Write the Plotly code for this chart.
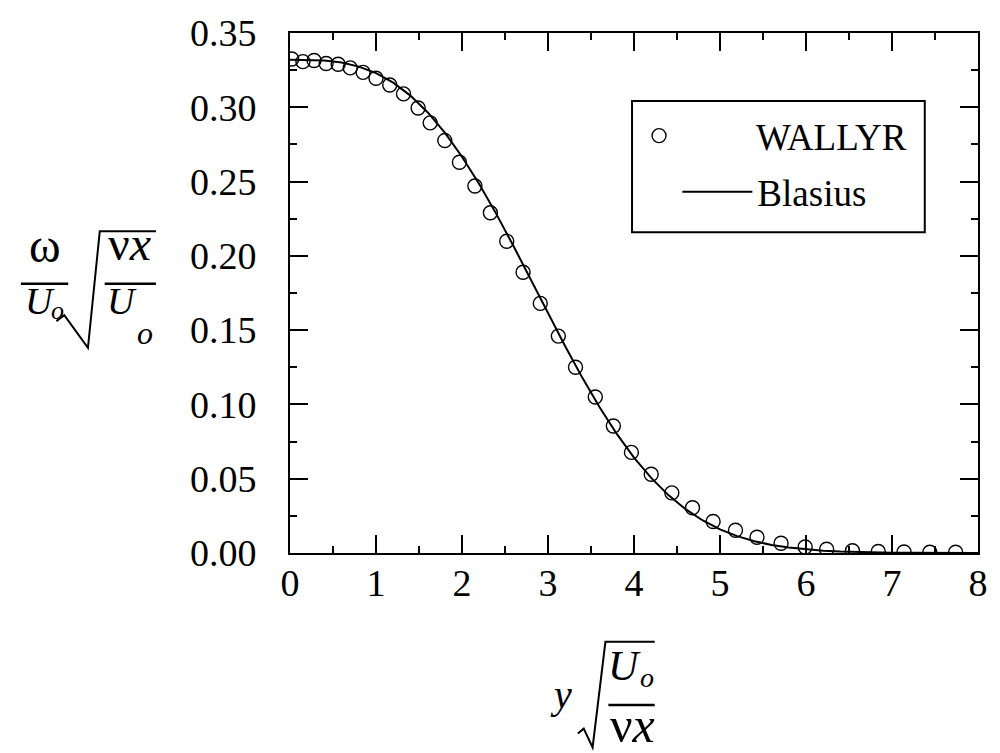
import plotly.graph_objects as go

# ---------------- data ----------------
wallyr_eta = [0.02, 0.15, 0.28, 0.42, 0.56, 0.70, 0.85, 1.00, 1.16, 1.32,
              1.49, 1.63, 1.80, 1.97, 2.15, 2.33, 2.52, 2.71, 2.91, 3.12, 3.32,
              3.55, 3.76, 3.97, 4.20, 4.44, 4.68, 4.92, 5.18, 5.43, 5.71,
              5.99, 6.24, 6.54, 6.84, 7.14, 7.44, 7.74]
wallyr_w = [0.3325, 0.3307, 0.3315, 0.3295, 0.3290, 0.3265, 0.3235, 0.3195, 0.3150, 0.3090,
            0.2995, 0.2895, 0.2776, 0.2630, 0.2470, 0.2290, 0.2098, 0.1890, 0.1680, 0.1460, 0.1250,
            0.1050, 0.0855, 0.0677, 0.0530, 0.0405, 0.0305, 0.0212, 0.0153, 0.0106, 0.0066,
            0.0040, 0.0025, 0.0015, 0.0010, 0.0007, 0.0005, 0.0005]

blasius_eta = [0.0, 0.2, 0.4, 0.6, 0.8, 1.0, 1.2, 1.4, 1.6, 1.8, 2.0, 2.2, 2.4, 2.6, 2.8,
               3.0, 3.2, 3.4, 3.6, 3.8, 4.0, 4.2, 4.4, 4.6, 4.8, 5.0, 5.2, 5.4, 5.6, 5.8,
               6.0, 6.2, 6.4, 6.6, 6.8, 7.0, 7.2, 7.4, 7.6, 7.8, 8.0]
blasius_w = [0.33206, 0.33199, 0.33147, 0.33008, 0.32739, 0.32301, 0.31659, 0.30787, 0.29667,
             0.28293, 0.26675, 0.24835, 0.22809, 0.20646, 0.18401, 0.16136, 0.13913, 0.11788,
             0.09809, 0.08013, 0.06424, 0.05052, 0.03897, 0.02948, 0.02187, 0.01591, 0.01134,
             0.00793, 0.00543, 0.00365, 0.00240, 0.00155, 0.00098, 0.00061, 0.00037, 0.00022,
             0.00013, 0.00007, 0.00004, 0.00002, 0.00001]

x_ticks = [0, 1, 2, 3, 4, 5, 6, 7, 8]
y_ticks = [0.00, 0.05, 0.10, 0.15, 0.20, 0.25, 0.30, 0.35]

# ---------------- layout geometry (pixels) ----------------
W, H = 1000, 753
L, R, T, B = 290, 988, 26, 553
SERIF = "Liberation Serif"
DESC = 0.216   # Liberation Serif descent (em)


def px(xp):
    return (xp - L) / (R - L)


def py(yp):
    return (B - yp) / (B - T)


fig = go.Figure()
fig.add_trace(go.Scatter(
    x=wallyr_eta, y=wallyr_w, mode="markers", name="WALLYR",
    marker=dict(symbol="circle-open", size=14, color="black", line=dict(width=1.4, color="black")),
    legend="legend",
))
fig.add_trace(go.Scatter(
    x=blasius_eta, y=blasius_w, mode="lines", name="Blasius",
    line=dict(color="black", width=2),
    legend="legend2",
))

axis_common = dict(
    showgrid=False, zeroline=False, showline=True, linecolor="black", linewidth=2,
    mirror="ticks", ticks="inside", ticklen=18, tickwidth=1.5, tickcolor="black",
    tickfont=dict(family=SERIF, size=38, color="black"),
)

fig.update_xaxes(range=[0, 8], tickvals=x_ticks, ticktext=[str(v) for v in x_ticks],
                 minor=dict(ticks="inside", ticklen=7, tickwidth=1.5, dtick=0.5, tickcolor="black"),
                 ticklabelstandoff=-5, **axis_common)
fig.update_yaxes(range=[0, 0.35], tickvals=y_ticks, ticktext=["%.2f" % v for v in y_ticks],
                 minor=dict(ticks="inside", ticklen=7, tickwidth=1.5, dtick=0.025, tickcolor="black"),
                 ticklabelstandoff=24, **axis_common)

shapes = []
annotations = []


def seg(x0, y0, x1, y1, w=2.5):
    shapes.append(dict(type="line", xref="paper", yref="paper",
                       x0=px(x0), y0=py(y0), x1=px(x1), y1=py(y1),
                       line=dict(color="black", width=w)))


def poly(pts, w=2):
    d = "M " + " L ".join("%f,%f" % (px(a), py(b)) for a, b in pts)
    shapes.append(dict(type="path", xref="paper", yref="paper", path=d,
                       line=dict(color="black", width=w)))


def txt(s, x, baseline, size=38, anchor="center"):
    """place text so that its baseline sits at the given pixel row"""
    annotations.append(dict(text=s, x=px(x), y=py(baseline + DESC * size + 1),
                            xref="paper", yref="paper",
                            showarrow=False, xanchor=anchor, yanchor="bottom",
                            font=dict(family=SERIF, size=size, color="black")))


# legend box
shapes.append(dict(type="rect", xref="paper", yref="paper",
                   x0=px(637), y0=py(95), x1=px(934), y1=py(228),
                   line=dict(color="black", width=2), fillcolor="white", layer="above"))

# y-axis title:  omega / U_o * sqrt(nu x / U_o)
txt("ω", 41, 259, 48)
seg(17, 280, 65, 280)
txt("<i>U</i>", 19, 312, 38, "left")
txt("<i>o</i>", 45, 317, 26, "left")
poly([(53, 318), (61, 312), (85, 345), (97, 227), (154, 227)])
txt("ν<i>x</i>", 127, 257, 48)
seg(102, 280, 154, 280)
txt("<i>U</i>", 102, 312, 38, "left")
txt("<i>o</i>", 133, 342, 32, "left")

# x-axis title:  y * sqrt(U_o / nu x)
txt("<i>y</i>", 565, 712, 40)
poly([(582, 736), (588, 731), (597, 750), (610, 643), (660, 643)])
txt("<i>U</i>", 611, 683, 42, "left")
txt("<i>o</i>", 643, 690, 28, "left")
seg(613, 707, 660, 707)
txt("ν<i>x</i>", 637, 746, 50)

fig.update_layout(
    width=W, height=H,
    margin=dict(l=L, r=W - R, t=T, b=H - B),
    paper_bgcolor="white", plot_bgcolor="white",
    showlegend=True,
    legend=dict(x=px(566), y=py(99), xanchor="left", yanchor="top",
                bgcolor="rgba(0,0,0,0)", borderwidth=0, itemwidth=184,
                font=dict(family=SERIF, size=37, color="black")),
    legend2=dict(x=px(683), y=py(156), xanchor="left", yanchor="top",
                 bgcolor="rgba(0,0,0,0)", borderwidth=0, itemwidth=70,
                 font=dict(family=SERIF, size=37, color="black")),
    shapes=shapes,
    annotations=annotations,
)

fig.write_html("out.html")
